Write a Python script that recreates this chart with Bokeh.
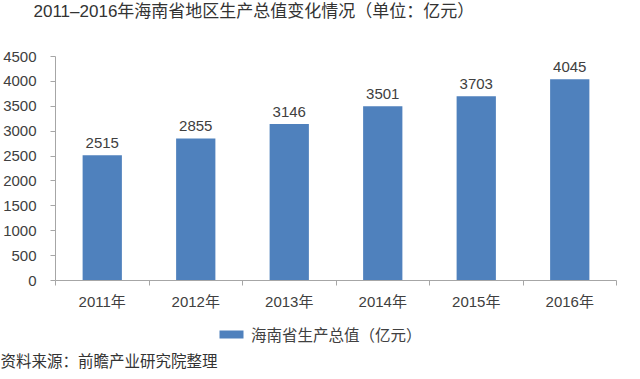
from bokeh.plotting import figure
from bokeh.layouts import column
from bokeh.models import ColumnDataSource, FixedTicker, Label, Legend, LegendItem, Range1d
from bokeh.core.properties import value
from bokeh.embed import file_html
from bokeh.resources import INLINE

years = ["2011年", "2012年", "2013年", "2014年", "2015年", "2016年"]
gdp = [2515, 2855, 3146, 3501, 3703, 4045]
y_ticks = [0, 500, 1000, 1500, 2000, 2500, 3000, 3500, 4000, 4500]
title_text = "2011–2016年海南省地区生产总值变化情况（单位：亿元）"
series_name = "海南省生产总值（亿元）"
source_text = "资料来源：前瞻产业研究院整理"

FONT = "Liberation Sans, Noto Sans CJK SC"
TXT = "#404040"
AX = "#A6A6A6"
BAR = "#4F81BD"
W = 624

xs = [i + 0.5 for i in range(len(years))]
src = ColumnDataSource(dict(x=xs, y=gdp, lab=[str(v) for v in gdp]))


def no_align(f):
    if "frame_align" in f.properties():
        f.frame_align = False
    return f


def blank(h):
    f = figure(width=W, height=h, output_backend="svg", toolbar_location=None,
               x_axis_type=None, y_axis_type=None,
               min_border_left=0, min_border_right=0, min_border_top=0, min_border_bottom=0,
               x_range=Range1d(0, len(years)), y_range=Range1d(0, 4500))
    f.outline_line_color = None
    f.grid.visible = False
    return no_align(f)


# ---- title strip
pt = blank(46)
pt.add_layout(Label(x=33, y=35, x_units="screen", y_units="screen", text=title_text,
                    text_baseline="middle", text_font_size="17px", text_font=FONT,
                    text_color="#333333"))

# ---- main chart
p = figure(width=W, height=270, output_backend="svg", toolbar_location=None,
           x_range=Range1d(0, len(years)), y_range=Range1d(0, 4500),
           min_border_left=47, min_border_right=8, min_border_top=10, min_border_bottom=36)
no_align(p)
p.outline_line_color = None
p.grid.visible = False

r = p.vbar(x="x", top="y", width=0.42, bottom=0, source=src, fill_color=BAR, line_color=None)
p.text(x="x", y="y", text="lab", source=src, text_align="center", text_baseline="bottom",
       y_offset=-7, text_font_size="15px", text_color=TXT, text_font=value(FONT))

p.xaxis.ticker = FixedTicker(ticks=xs, minor_ticks=list(range(len(years) + 1)))
p.xaxis.major_label_overrides = {x: y for x, y in zip(xs, years)}
p.xaxis.major_tick_in = 0
p.xaxis.major_tick_out = 0
p.xaxis.minor_tick_in = 0
p.xaxis.minor_tick_out = 5
p.xaxis.minor_tick_line_color = AX
p.xaxis.axis_line_color = AX
p.xaxis.major_label_standoff = 7
p.xaxis.major_label_text_font_size = "15px"
p.xaxis.major_label_text_font = FONT
p.xaxis.major_label_text_color = TXT

p.yaxis.ticker = FixedTicker(ticks=y_ticks, minor_ticks=[])
p.yaxis.major_tick_in = 0
p.yaxis.major_tick_out = 5
p.yaxis.major_tick_line_color = AX
p.yaxis.axis_line_color = AX
p.yaxis.major_label_standoff = 14
p.yaxis.major_label_text_font_size = "15px"
p.yaxis.major_label_text_font = FONT
p.yaxis.major_label_text_color = TXT

# ---- footer: legend + source note
pf = blank(55)
# zero-size bars (nothing visible): they only provide the legend swatch style
rf = pf.vbar(x="x", top="y", bottom="y", width=0, source=src, fill_color=BAR, line_color=None)
legend = Legend(items=[LegendItem(label=series_name, renderers=[rf])], location=(216, 26),
                orientation="horizontal", padding=0, margin=0, spacing=0,
                glyph_width=30, glyph_height=10, label_height=10, label_standoff=5,
                label_text_font_size="15.5px", label_text_font=FONT, label_text_color=TXT,
                border_line_alpha=0, background_fill_alpha=0)
pf.add_layout(legend, "center")
pf.add_layout(Label(x=0, y=10, x_units="screen", y_units="screen", text=source_text,
                    text_baseline="middle", text_font_size="15.5px", text_font=FONT,
                    text_color="#333333"))

layout = column(pt, p, pf, spacing=0)
open("out.html", "w").write(file_html(layout, INLINE))
